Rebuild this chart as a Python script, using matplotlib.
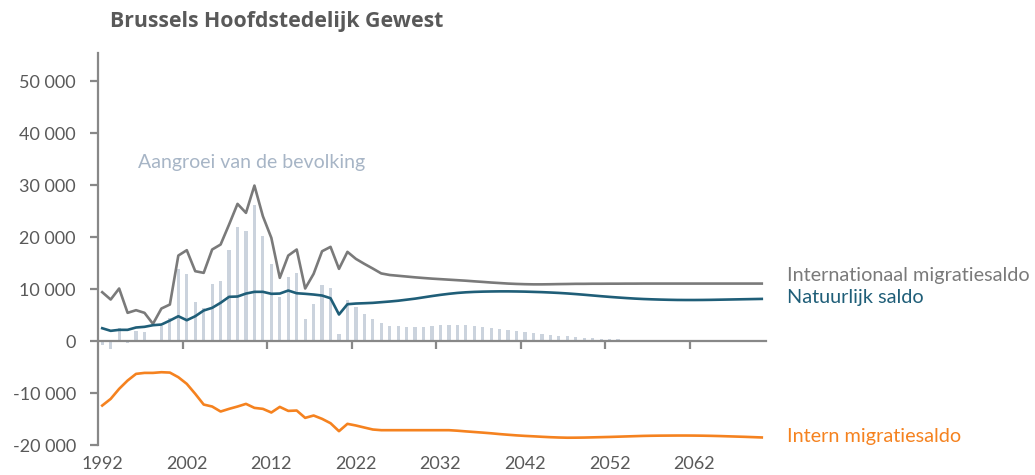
import numpy as np
import matplotlib.pyplot as plt

# jaren 1992 - 2070
years = np.arange(1992, 2071)

# Internationaal migratiesaldo
intl = [9390, 7980, 10100, 5420, 5930, 5420, 3300, 6250, 7020, 16440,
        17470, 13430, 13110, 17600, 18560, 22400, 26380, 24650, 29900, 24000,
        19840, 12150, 16440, 17600, 10100, 12920, 17270, 18110, 13880, 17150,
        15800, 14840, 13940, 13000, 12700, 12550, 12400, 12250, 12120, 12000,
        11900, 11800, 11700, 11600, 11480, 11370, 11250, 11150, 11050, 10980,
        10930, 10900, 10900, 10920, 10950, 10970, 11000, 11000, 11020, 11020,
        11030, 11030, 11040, 11040, 11050, 11050, 11050, 11050, 11050, 11050,
        11050, 11050, 11050, 11050, 11050, 11050, 11050, 11050, 11050]

# Natuurlijk saldo
natural = [2460, 1960, 2150, 2150, 2600, 2730, 3040, 3170, 3940, 4770,
           4000, 4770, 5870, 6380, 7350, 8500, 8560, 9130, 9460, 9460,
           9080, 9130, 9710, 9190, 9080, 8940, 8750, 8230, 5100, 7080,
           7210, 7270, 7340, 7470, 7600, 7750, 7950, 8150, 8400, 8650,
           8880, 9080, 9250, 9370, 9450, 9500, 9530, 9550, 9550, 9530,
           9500, 9450, 9400, 9330, 9250, 9150, 9030, 8900, 8760, 8620,
           8490, 8370, 8260, 8160, 8080, 8020, 7970, 7930, 7900, 7890,
           7890, 7900, 7920, 7950, 7980, 8010, 8040, 8070, 8100]

# Intern migratiesaldo
internal = [-12410, -11130, -9200, -7600, -6320, -6130, -6130, -6000, -6070, -6960,
            -8240, -10160, -12220, -12600, -13560, -13050, -12600, -12090, -12860, -13050,
            -13750, -12670, -13440, -13370, -14780, -14330, -14970, -15810, -17340, -15930,
            -16250, -16640, -17020, -17150, -17150, -17150, -17150, -17150, -17150, -17150,
            -17150, -17150, -17250, -17380, -17500, -17620, -17750, -17900, -18030, -18150,
            -18250, -18330, -18420, -18500, -18560, -18600, -18590, -18570, -18530, -18490,
            -18450, -18400, -18350, -18300, -18250, -18220, -18200, -18190, -18180, -18180,
            -18190, -18210, -18240, -18280, -18330, -18380, -18430, -18490, -18550]

# Aangroei van de bevolking
growth = [-670, -1500, 2460, -350, 1890, 1700, 200, 2850, 4460, 13940,
          12980, 7470, 6380, 11060, 11630, 17600, 21890, 21250, 26120, 20160,
          14900, 8560, 12400, 13040, 4200, 7210, 10800, 10290, 1380, 7980,
          6630, 5290, 4330, 3500, 2800, 2800, 2700, 2700, 2750, 2900,
          3050, 3050, 3050, 3050, 2900, 2700, 2450, 2250, 2050, 1900,
          1750, 1550, 1350, 1150, 1000, 900, 780, 620, 520, 430,
          350, 300, 260, 230, 210, 200, 190, 190, 190, 190,
          190, 190, 190, 190, 190, 190, 190, 190, 190]

plt.rcParams['font.family'] = ['Lato', 'DejaVu Sans']

axis_col = '#888888'
txt_col = '#595959'
grey = '#7A7A7A'
teal = '#1F5E78'
orange = '#F5821F'
barcol = '#CBD3DD'

fig = plt.figure(figsize=(10.35, 4.75), dpi=100)
ax = fig.add_axes([98/1035, 30/475, 668/1035, 392/475])

ax.bar(years, growth, width=0.38, color=barcol, zorder=1)
ax.plot(years, intl, color=grey, lw=1.9, zorder=3)
ax.plot(years, natural, color=teal, lw=1.9, zorder=4)
ax.plot(years, internal, color=orange, lw=1.9, zorder=4)

ax.set_xlim(1991.5, 2070.5)
ax.set_ylim(-20000, 55400)

for s in ['top', 'right']:
    ax.spines[s].set_visible(False)
ax.spines['bottom'].set_position(('data', 0))
for s in ['left', 'bottom']:
    ax.spines[s].set_color(axis_col)
    ax.spines[s].set_linewidth(1.6)
    ax.spines[s].set_zorder(2)

ax.set_xticks(np.arange(2001.5, 2070, 10))
ax.set_xticklabels([])
ax.tick_params(axis='x', length=6, width=1.6, color=axis_col, direction='out')

yt = np.arange(-20000, 50001, 10000)
ax.set_yticks(yt)
ax.set_yticklabels([f"{v:,}".replace(",", " ") for v in yt])
ax.tick_params(axis='y', length=6, width=1.6, color=axis_col, pad=10,
               labelsize=13, labelcolor=txt_col)

for y in range(1992, 2063, 10):
    ax.text(y, -24700, str(y), ha='center', va='baseline', fontsize=13,
            color=txt_col, clip_on=False)

ax.text(1996.2, 34300, 'Aangroei van de bevolking', fontsize=14,
        color='#A7B5C6', va='center', ha='left')

ax.text(2073.0, 11500, 'Internationaal migratiesaldo', fontsize=14.3,
        color=grey, va='baseline', ha='left', clip_on=False)
ax.text(2073.0, 7350, 'Natuurlijk saldo', fontsize=14.3,
        color=teal, va='baseline', ha='left', clip_on=False)
ax.text(2073.0, -19460, 'Intern migratiesaldo', fontsize=14.3,
        color=orange, va='baseline', ha='left', clip_on=False)

fig.text(110/1035, 1 - 27.3/475, 'Brussels Hoofdstedelijk Gewest',
         fontsize=15.3, fontweight='bold', color=txt_col, va='baseline', ha='left',
         family=['Open Sans', 'DejaVu Sans'])

fig.savefig('out.png', dpi=100)
